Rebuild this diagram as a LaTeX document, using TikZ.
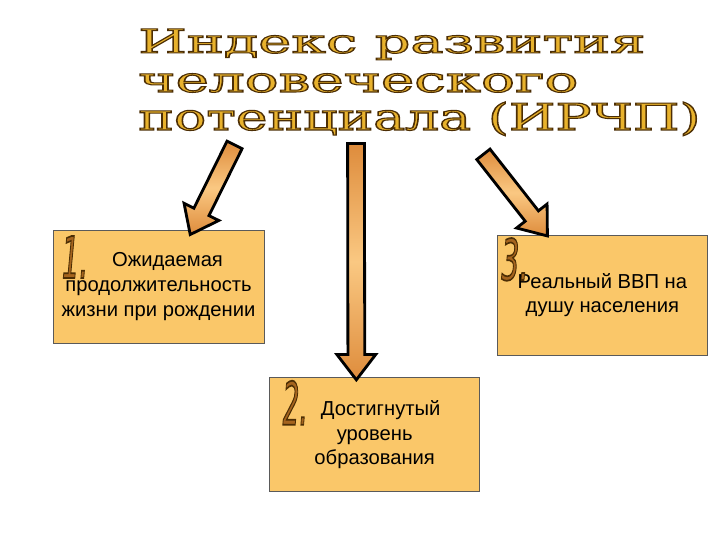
\documentclass[tikz,border=0pt]{standalone}
\usepackage{fontspec}
\setmainfont{Liberation Sans}
\newfontfamily\titlefont{DejaVu Serif}
\newfontfamily\numfont{DejaVu Sans}
\usetikzlibrary{shapes.arrows, positioning, calc}

\definecolor{boxfill}{RGB}{250,199,105}
\definecolor{boxline}{RGB}{90,90,90}
\definecolor{titlegold}{RGB}{232,178,45}
\definecolor{arrowdark}{RGB}{222,140,60}
\definecolor{arrowlight}{RGB}{250,200,130}
\definecolor{numbrown}{RGB}{165,100,30}

% text with a dark outline (fill + stroke)
\newcommand{\outlined}[1]{\special{pdf:literal direct 0.3 0.18 0.02 RG 0.3 w 2 Tr}#1\special{pdf:literal direct 0 Tr}}

\tikzset{
  infobox/.style={draw=boxline, fill=boxfill, minimum width=4.2cm, minimum height=2.28cm, align=center, inner sep=0pt, font=\fontsize{11.5}{14}\selectfont}, % the three orange boxes
  titleline/.style={anchor=base west, inner sep=0pt, text=titlegold, font=\titlefont},
  numlabel/.style={inner sep=0pt, text=numbrown, font=\numfont\itshape},
  blockarrow/.style={single arrow, draw=black, line width=1.6pt, inner sep=0.14cm, minimum width=0.72cm, single arrow head extend=0.22cm, single arrow tip angle=75, top color=arrowdark, bottom color=arrowdark, middle color=arrowlight},
}

\begin{document}
\begin{tikzpicture}
  \useasboundingbox (0,0) rectangle (14.4,10.8);

  \node[titleline] (TITLE1) at (2.76,9.74) {\resizebox{10.14cm}{0.48cm}{\outlined{Индекс развития}}};
  \node[titleline] (TITLE2) at (2.76,8.96) {\resizebox{8.8cm}{0.37cm}{\outlined{человеческого}}};
  \node[titleline] (TITLE3) at (2.76,8.2) {\resizebox{11.24cm}{0.56cm}{\outlined{потенциала (ИРЧП)}}};

  \node[infobox, minimum width=4.22cm, minimum height=2.26cm] (ZHIZN) at (3.17,5.07) {\hspace*{0.36cm}Ожидаемая\\продолжительность\\жизни при рождении};
  \node[infobox, below right=0.68cm and 0.1cm of ZHIZN] (OBRAZ) {\hspace*{0.24cm}Достигнутый\\уровень\\образования};
  \node[infobox, minimum height=2.4cm, above right=0.44cm and 0.34cm of OBRAZ] (VVP) {Реальный ВВП на\\душу населения};

  \node[numlabel, below right=0.12cm and 0.18cm of ZHIZN.north west] (NUM1) {\resizebox{0.52cm}{0.84cm}{\outlined{1.}}};
  \node[numlabel, below right=0.06cm and 0.26cm of OBRAZ.north west] (NUM2) {\resizebox{0.5cm}{0.88cm}{\outlined{2.}}};
  \node[numlabel, below right=0.06cm and 0.08cm of VVP.north west] (NUM3) {\resizebox{0.54cm}{0.84cm}{\outlined{3.}}};

  \coordinate (A1tail) at (4.74,8.0);
  \coordinate (A1tip) at ([xshift=2.8cm]ZHIZN.north west);
  \coordinate (A2tail) at (7.12,8.04);
  \coordinate (A2tip) at ([xshift=1.74cm,yshift=0.06cm]OBRAZ.north west);
  \coordinate (A3tail) at (9.6,7.8);
  \coordinate (A3tip) at ([xshift=0.94cm,yshift=0.06cm]VVP.north west);

  \foreach \arr in {A1,A2,A3}
    \path let \p1=($(\arr tip)-(\arr tail)$), \n1={veclen(\x1,\y1)}, \n2={atan2(\y1,\x1)} in
      node[blockarrow, minimum height=\n1, rotate=\n2] at ($(\arr tail)!0.5!(\arr tip)$) {};
\end{tikzpicture}
\end{document}
